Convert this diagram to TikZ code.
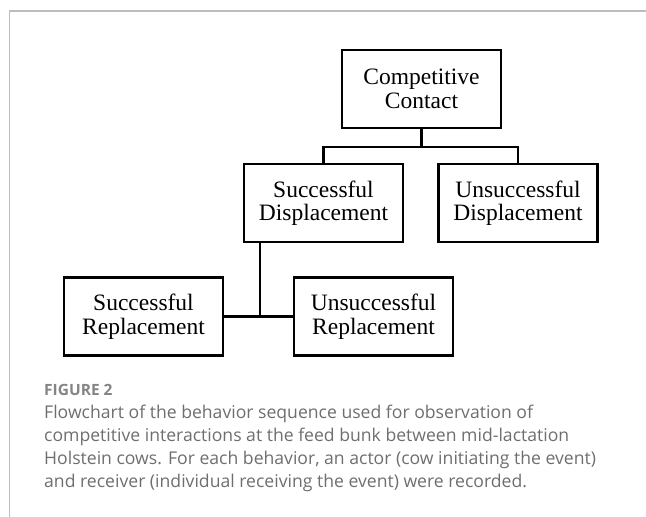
\documentclass[tikz,border=0pt]{standalone}
\usepackage{fontspec}
\setmainfont{Liberation Serif}
\newfontfamily\captionfont{Open Sans}
\usepackage{tikz}
\usetikzlibrary{calc}

\definecolor{framegray}{HTML}{BDBDBD}
\definecolor{capgray}{HTML}{6E6E6E}

\begin{document}
\begin{tikzpicture}[
            x=1pt, y=-1pt,
            stage/.style={
                draw, line width=2.2pt, inner sep=0pt,
                minimum width=159pt, minimum height=78pt,
                align=center, font=\fontsize{23.5}{23.5}\selectfont
            },
            link/.style={line width=2.2pt},
            capline/.style={anchor=base west, inner sep=0pt, text=capgray,
                font=\captionfont\fontsize{17.6}{20}\selectfont}
        ]

            \useasboundingbox (0,0) rectangle (646,517);
            \draw[framegray, line width=1.5pt] (646,11) -- (9.5,11) -- (9.5,517);

            \node[stage] (contact) at (421.5,89) {Competitive\\Contact};
            \node[stage] (succdisp) at (323.5,203) {Successful\\Displacement};
            \node[stage] (unsdisp) at (518,203) {Unsuccessful\\Displacement};
            \node[stage] (succrepl) at (143.5,316.5) {Successful\\Replacement};
            \node[stage] (unsrepl) at (373.5,316.5) {Unsuccessful\\Replacement};

            \draw[link] (contact.south) -- ++(0,18) coordinate (bus);
            \draw[link] (succdisp.north) |- (bus) -| (unsdisp.north);
            \coordinate (drop) at ([xshift=17pt]succdisp.south west);
            \draw[link] (drop) -- (drop |- succrepl.east);
            \draw[link] (succrepl.east) -- (unsrepl.west);

            \node[capline, text=capgray!85, font=\captionfont\fontsize{15.5}{16}\selectfont\bfseries] (figlabel) at (44,395) {FIGURE 2};
            \node[capline] (cap1) at (44,418) {Flowchart of the behavior sequence used for observation of};
            \node[capline] (cap2) at (44,441.3) {competitive interactions at the feed bunk between mid-lactation};
            \node[capline] (cap3) at (44,464.6) {Holstein cows. For each behavior, an actor (cow initiating the event)};
            \node[capline] (cap4) at (44,487.9) {and receiver (individual receiving the event) were recorded.};
        \end{tikzpicture}
\end{document}
